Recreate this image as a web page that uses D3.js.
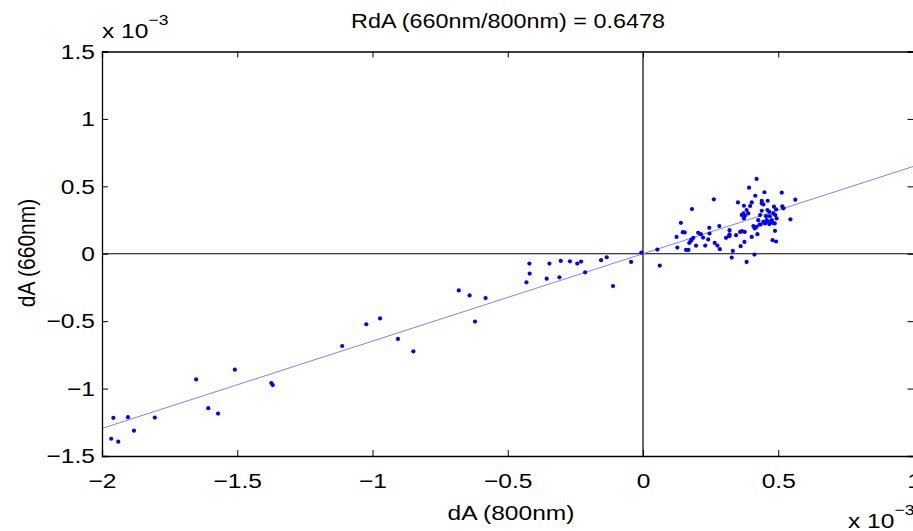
<!DOCTYPE html>
<html>
<head>
<meta charset="utf-8">
<script src="https://cdn.jsdelivr.net/npm/d3@7"></script>
<style>
  body { margin: 0; background: #fff; overflow: hidden; }
  svg { font-family: "Liberation Sans", Arial, sans-serif; }
  .wide { transform-box: fill-box; transform-origin: center; transform: scaleX(1.17); }
  .wide-right { transform-box: fill-box; transform-origin: right center; transform: scaleX(1.17); }
  .wide-left { transform-box: fill-box; transform-origin: left center; transform: scaleX(1.17); }
</style>
</head>
<body>
<div id="viz"></div>
<script>
// values in units of 1e-3
var xTicks = [-2, -1.5, -1, -0.5, 0, 0.5, 1];
var yTicks = [-1.5, -1, -0.5, 0, 0.5, 1, 1.5];
var titleText = "RdA (660nm/800nm) = 0.6478";
var xLabelText = "dA (800nm)";
var yLabelText = "dA (660nm)";
var fitSlope = 0.6478;
var fitIntercept = 0;

var dA800 = [
  -1.958, -1.904, -1.966, -1.940, -1.882, -1.805, -1.652, -1.607, -1.571, -1.509, -1.374, -1.369,
  -1.112, -1.023, -0.972, -0.906, -0.849, -0.681, -0.641, -0.621, -0.582,
  -0.420, -0.419, -0.431, -0.346, -0.356, -0.304, -0.309, -0.270, -0.243, -0.229, -0.214,
  -0.155, -0.134, -0.111, -0.044, -0.006,
  0.053, 0.062, 0.127, 0.124, 0.140, 0.147, 0.154, 0.159, 0.168, 0.171, 0.180, 0.186, 0.181,
  0.204, 0.214, 0.230, 0.241, 0.245, 0.262, 0.265, 0.275, 0.282, 0.284, 0.307, 0.176,
  0.320, 0.320, 0.319, 0.344, 0.359, 0.366, 0.376, 0.361, 0.375, 0.332, 0.328, 0.383, 0.412,
  0.402, 0.423, 0.413, 0.420, 0.431, 0.488, 0.479, 0.492, 0.545,
  0.420, 0.392, 0.449, 0.513, 0.415, 0.563, 0.351, 0.402, 0.439, 0.461, 0.373, 0.396, 0.439,
  0.445, 0.484, 0.515, 0.519, 0.492, 0.383, 0.389, 0.377, 0.371, 0.439, 0.460, 0.467, 0.469,
  0.455, 0.482, 0.489, 0.494, 0.457, 0.463, 0.472, 0.479, 0.487, 0.451, 0.467, 0.476, 0.445,
  0.433, 0.319, 0.365, 0.373, 0.426, 0.408, 0.435, 0.246, 0.196, 0.222
];
var dA660 = [
  -1.217, -1.212, -1.372, -1.394, -1.312, -1.215, -0.932, -1.145, -1.185, -0.860, -0.959, -0.974,
  -0.684, -0.523, -0.480, -0.632, -0.724, -0.272, -0.309, -0.503, -0.329,
  -0.073, -0.147, -0.212, -0.073, -0.185, -0.053, -0.175, -0.056, -0.073, -0.058, -0.138,
  -0.048, -0.026, -0.240, -0.061, 0.009,
  0.031, -0.088, 0.046, 0.125, 0.229, 0.160, 0.158, 0.028, 0.028, 0.080, 0.106, 0.118, 0.331,
  0.155, 0.145, 0.061, 0.106, 0.192, 0.404, 0.080, 0.061, 0.205, 0.034, 0.118, 0.093,
  0.175, 0.143, 0.130, 0.138, 0.162, 0.168, 0.162, 0.056, 0.088, 0.021, -0.028, -0.061, -0.006,
  0.125, 0.145, 0.188, 0.200, 0.217, 0.170, 0.101, 0.091, 0.255,
  0.555, 0.490, 0.456, 0.453, 0.430, 0.401, 0.381, 0.381, 0.393, 0.393, 0.356, 0.354, 0.374,
  0.366, 0.349, 0.351, 0.337, 0.329, 0.324, 0.299, 0.281, 0.299, 0.319, 0.324, 0.311, 0.279,
  0.279, 0.299, 0.287, 0.262, 0.249, 0.237, 0.242, 0.229, 0.225, 0.225, 0.220, 0.249, 0.237,
  0.287, 0.136, 0.287, 0.262, 0.249, 0.205, 0.217, 0.150, 0.060, 0.120
];

var W = 913, H = 531;

var svg = d3.select("#viz").append("svg")
    .attr("width", W)
    .attr("height", H);

var x = d3.scaleLinear().domain([-2, 1]).range([102, 913.5]);
var y = d3.scaleLinear().domain([-1.5, 1.5]).range([456, 51.5]);

var fmt = function(d) { return d3.format("")(d).replace("-", "\u2212"); };

// zero lines
svg.append("line")
    .attr("x1", x(-2)).attr("x2", x(1))
    .attr("y1", y(0)).attr("y2", y(0))
    .attr("stroke", "#000").attr("stroke-width", 1.2);
svg.append("line")
    .attr("x1", x(0)).attr("x2", x(0))
    .attr("y1", y(-1.5)).attr("y2", y(1.5))
    .attr("stroke", "#000").attr("stroke-width", 1.2);

// fit line
svg.append("line")
    .attr("x1", x(-2)).attr("y1", y(fitSlope * -2 + fitIntercept))
    .attr("x2", x(1)).attr("y2", y(fitSlope * 1 + fitIntercept))
    .attr("stroke", "#8080ff").attr("stroke-width", 1);

// points
var pts = dA800.map(function(d, i) { return [d, dA660[i]]; });
svg.selectAll(".dot")
    .data(pts)
    .enter()
    .append("circle")
    .attr("class", "dot")
    .attr("cx", function(d) { return x(d[0]); })
    .attr("cy", function(d) { return y(d[1]); })
    .attr("r", 2.1)
    .attr("fill", "#0000ff");

// axes box, ticks pointing inwards on all four sides
var xAxisG = svg.append("g")
    .attr("transform", "translate(0," + y(-1.5) + ")")
    .call(d3.axisBottom(x).tickValues(xTicks).tickSize(-6).tickPadding(17).tickFormat(fmt));
svg.append("g")
    .attr("transform", "translate(0," + y(1.5) + ")")
    .call(d3.axisTop(x).tickValues(xTicks).tickSize(-6).tickFormat(""));
var yAxisG = svg.append("g")
    .attr("transform", "translate(" + x(-2) + ",0)")
    .call(d3.axisLeft(y).tickValues(yTicks).tickSize(-6).tickPadding(7).tickFormat(fmt));
svg.append("g")
    .attr("transform", "translate(" + x(1) + ",0)")
    .call(d3.axisRight(y).tickValues(yTicks).tickSize(-6).tickFormat(""));

svg.selectAll(".domain").attr("stroke", "#000").attr("stroke-width", 1.3);
svg.selectAll(".tick line").attr("stroke", "#000");
svg.selectAll(".tick text")
    .attr("fill", "#000")
    .style("font-size", "21px")
    .style("font-family", "'Liberation Sans', Arial, sans-serif");
xAxisG.selectAll(".tick text").attr("class", "wide");
yAxisG.selectAll(".tick text").attr("class", "wide-right");

// title
svg.append("text")
    .attr("class", "wide")
    .attr("x", 508).attr("y", 28)
    .attr("text-anchor", "middle")
    .style("font-size", "20px")
    .text(titleText);

// axis labels
svg.append("text")
    .attr("class", "wide")
    .attr("x", 511).attr("y", 520)
    .attr("text-anchor", "middle")
    .style("font-size", "21px")
    .text(xLabelText);
svg.append("text")
    .attr("transform", "translate(35,253) rotate(-90) scale(1,1.17)")
    .attr("text-anchor", "middle")
    .style("font-size", "21px")
    .text(yLabelText);

// exponent labels
function expLabel(px, py) {
  var t = svg.append("text")
      .attr("class", "wide-left")
      .attr("x", px).attr("y", py)
      .style("font-size", "21px");
  t.append("tspan").text("x 10");
  t.append("tspan").attr("dy", -13).style("font-size", "15px").text("\u22123");
}
expLabel(102, 38);
expLabel(848, 528);
</script>
</body>
</html>
